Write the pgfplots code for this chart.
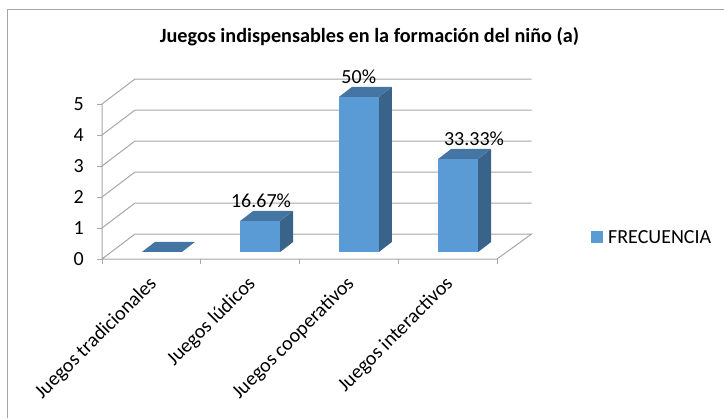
\documentclass[border=0pt]{standalone}
\usepackage{fontspec}
\setmainfont{Carlito}
\usepackage{pgfplots}
\pgfplotsset{compat=1.18}
\definecolor{barfront}{HTML}{5B9BD5}
\definecolor{bartop}{HTML}{4575A2}
\definecolor{barside}{HTML}{3A6389}
\definecolor{wallgray}{HTML}{A6A6A6}
\begin{document}
\begin{tikzpicture}[x=1bp,y=1bp]
\path[use as bounding box] (0,0) rectangle (724,418);
\draw[wallgray,line width=1pt] (7,0) -- (7,409) -- (724,409);
\begin{axis}[
  at={(102bp,159bp)},anchor=south west,
  scale only axis,width=395bp,height=155bp,
  xmin=-0.5,xmax=3.5,ymin=0,ymax=5,
  clip=false,
  axis line style={draw=none},
  axis x line*=bottom,axis y line*=left,
  xtick={0,1,2,3},
  xticklabels={Juegos tradicionales,Juegos lúdicos,Juegos cooperativos,Juegos interactivos},
  x tick label style={rotate=45,anchor=north east,font=\fontsize{20bp}{22bp}\selectfont,inner sep=0pt,xshift=-13.5bp,yshift=-8.3bp},
  ytick={0,1,2,3,4,5},
  y tick label style={font=\fontsize{20bp}{22bp}\selectfont,inner sep=0pt,xshift=-18bp},
  major tick length=0pt,
  /pgf/number format/assume math mode=true,
]
% floor and walls
\addplot[wallgray,line width=1pt] coordinates {(-0.5,0) (3.5,0) (3.85,0.806) (-0.166,0.806) (-0.5,0) (-0.5,5) (-0.166,5.806) (3.85,5.806)};
\addplot[wallgray,line width=1pt] coordinates {(-0.5,1) (-0.166,1.806) (3.85,1.806)};
\addplot[wallgray,line width=1pt] coordinates {(-0.5,2) (-0.166,2.806) (3.85,2.806)};
\addplot[wallgray,line width=1pt] coordinates {(-0.5,3) (-0.166,3.806) (3.85,3.806)};
\addplot[wallgray,line width=1pt] coordinates {(-0.5,4) (-0.166,4.806) (3.85,4.806)};
% x ticks
\addplot[wallgray,line width=1pt] coordinates {(-0.5,0) (-0.5,-0.16)};
\addplot[wallgray,line width=1pt] coordinates {(0.5,0) (0.5,-0.16)};
\addplot[wallgray,line width=1pt] coordinates {(1.5,0) (1.5,-0.16)};
\addplot[wallgray,line width=1pt] coordinates {(2.5,0) (2.5,-0.16)};
\addplot[wallgray,line width=1pt] coordinates {(3.5,0) (3.5,-0.16)};
% y ticks
\addplot[wallgray,line width=1pt] coordinates {(-0.5,0) (-0.55,0)};
\addplot[wallgray,line width=1pt] coordinates {(-0.5,1) (-0.55,1)};
\addplot[wallgray,line width=1pt] coordinates {(-0.5,2) (-0.55,2)};
\addplot[wallgray,line width=1pt] coordinates {(-0.5,3) (-0.55,3)};
\addplot[wallgray,line width=1pt] coordinates {(-0.5,4) (-0.55,4)};
\addplot[wallgray,line width=1pt] coordinates {(-0.5,5) (-0.55,5)};
% bars
\addplot[fill=bartop,draw=none] coordinates {(-0.0966,0.226) (0.3086,0.226) (0.4406,0.549) (0.0354,0.549)} --cycle;
\addplot[fill=barside,draw=none] coordinates {(1.3036,0.226) (1.4356,0.549) (1.4356,1.549) (1.3036,1.226)} --cycle;
\addplot[fill=bartop,draw=none] coordinates {(0.8984,1.226) (1.3036,1.226) (1.4356,1.549) (1.0304,1.549)} --cycle;
\addplot[fill=barfront,draw=none] coordinates {(0.8984,0.226) (1.3036,0.226) (1.3036,1.226) (0.8984,1.226)} --cycle;
\addplot[fill=barside,draw=none] coordinates {(2.3036,0.226) (2.4356,0.549) (2.4356,5.549) (2.3036,5.226)} --cycle;
\addplot[fill=bartop,draw=none] coordinates {(1.8984,5.226) (2.3036,5.226) (2.4356,5.549) (2.0304,5.549)} --cycle;
\addplot[fill=barfront,draw=none] coordinates {(1.8984,0.226) (2.3036,0.226) (2.3036,5.226) (1.8984,5.226)} --cycle;
\addplot[fill=barside,draw=none] coordinates {(3.3086,0.226) (3.4406,0.549) (3.4406,3.549) (3.3086,3.226)} --cycle;
\addplot[fill=bartop,draw=none] coordinates {(2.9034,3.226) (3.3086,3.226) (3.4406,3.549) (3.0354,3.549)} --cycle;
\addplot[fill=barfront,draw=none] coordinates {(2.9034,0.226) (3.3086,0.226) (3.3086,3.226) (2.9034,3.226)} --cycle;
% labels
\node[font=\fontsize{20bp}{22bp}\selectfont,inner sep=0pt] at (axis cs:1.11,1.88) {16.67\%};
\node[font=\fontsize{20bp}{22bp}\selectfont,inner sep=0pt] at (axis cs:2.10,5.88) {50\%};
\node[font=\fontsize{20bp}{22bp}\selectfont,inner sep=0pt] at (axis cs:3.267,3.88) {33.33\%};
\end{axis}
\node[font=\bfseries\fontsize{20.2bp}{22bp}\selectfont,inner sep=0pt] at (369.5,381) {Juegos indispensables en la formación del niño (a)};
\fill[barfront] (591,175) rectangle (603,187);
\node[anchor=west,font=\fontsize{20bp}{22bp}\selectfont,inner sep=0pt] at (608,181) {FRECUENCIA};
\end{tikzpicture}
\end{document}
